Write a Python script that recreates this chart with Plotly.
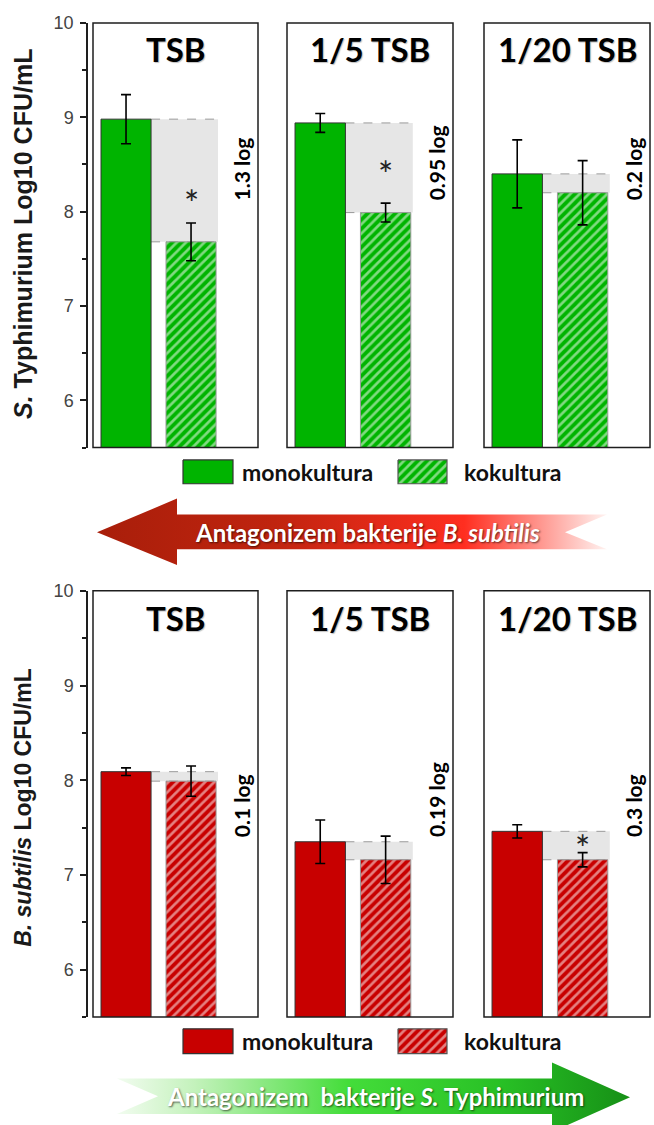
import plotly.graph_objects as go

W, H = 654, 1125

# ---------------------------------------------------------------- data
media = ["TSB", "1/5 TSB", "1/20 TSB"]
series = ["monokultura", "kokultura"]

# S. Typhimurium, log10 CFU/mL (mean and SD)
st_mono = [8.98, 8.94, 8.40]
st_mono_sd = [0.26, 0.10, 0.36]
st_co = [7.68, 7.99, 8.20]
st_co_sd = [0.20, 0.10, 0.34]
st_star = [8.18, 8.48, None]      # height of significance marker

# B. subtilis, log10 CFU/mL (mean and SD)
bs_mono = [8.09, 7.35, 7.46]
bs_mono_sd = [0.04, 0.23, 0.07]
bs_co = [7.99, 7.16, 7.16]
bs_co_sd = [0.16, 0.25, 0.075]
bs_star = [None, None, 7.37]

y_range = [5.5, 10]
y_ticks = [6, 7, 8, 9, 10]

# ---------------------------------------------------------------- styling
GREEN = "#00b400"
RED = "#c80000"
FRAME = "#1e1e1e"
TITLE_FONT = "Lato"
AXIS_FONT = "Liberation Sans"

charts = [
    dict(mono=st_mono, mono_sd=st_mono_sd, co=st_co, co_sd=st_co_sd, star=st_star,
         color=GREEN, top=13, bottom=441.5, title_y=39, label_y=8.10,
         ytitle="<b><i>S.</i> Typhimurium Log10 CFU/mL</b>", ytitle_y=226,
         ytitle_size=25, legend_y=(454, 478)),
    dict(mono=bs_mono, mono_sd=bs_mono_sd, co=bs_co, co_sd=bs_co_sd, star=bs_star,
         color=RED, top=586, bottom=1016, title_y=613, label_y=7.38,
         ytitle="<b><i>B. subtilis</i> Log10 CFU/mL</b>", ytitle_y=805,
         ytitle_size=23, legend_y=(1028, 1053)),
]

panel_x = [(93, 258), (287, 453), (484, 650)]
BAR_W = 0.77
X_RANGE = [-0.508, 2.03]
LABEL_X = 1.78
HATCH = dict(shape="/", fgcolor="white", size=6.5, solidity=0.42)


def px(v):
    return v / W


def py(v):
    return 1 - v / H


def ax_id(i):
    return "" if i == 1 else str(i)


fig = go.Figure()
layout = dict(
    width=W, height=H,
    margin=dict(l=0, r=0, t=0, b=0),
    paper_bgcolor="white", plot_bgcolor="rgba(0,0,0,0)",
    barmode="overlay", showlegend=False,
)
shapes, annotations = [], []

for c, ch in enumerate(charts):
    col = ch["color"]
    for j, name in enumerate(media):
        idx = c * 3 + j + 1
        k = ax_id(idx)
        xa, ya = f"x{k}", f"y{k}"
        x0, x1 = panel_x[j]
        layout[f"xaxis{k}"] = dict(domain=[px(x0), px(x1)], range=X_RANGE,
                                   visible=False, anchor=ya, fixedrange=True)
        yax = dict(domain=[py(ch["bottom"]), py(ch["top"])], range=y_range,
                   anchor=xa, fixedrange=True, showgrid=False, zeroline=False)
        if j == 0:
            yax.update(anchor="free", position=px(87), showline=True,
                       linecolor=FRAME, linewidth=1.5, ticks="outside",
                       ticklen=6, tickwidth=1.5, tickcolor=FRAME,
                       tickvals=y_ticks, ticklabelstandoff=3,
                       tickfont=dict(family=AXIS_FONT, size=18, color="#444"),
                       minor=dict(dtick=0.5, tick0=5.5, ticks="outside",
                                  ticklen=4, tickwidth=1.5, tickcolor=FRAME))
        else:
            yax.update(visible=False)
        layout[f"yaxis{k}"] = yax

        m, s = ch["mono"][j], ch["co"][j]
        diff = round(m - s, 2)

        # shaded difference band with dashed edges
        bx0, bx1 = BAR_W / 2, 1 + BAR_W / 2 + 0.03
        shapes.append(dict(type="rect", xref=xa, yref=ya, x0=bx0, x1=bx1,
                           y0=s, y1=m, fillcolor="#e6e6e6", line_width=0,
                           layer="below"))
        for yv in (m, s):
            shapes.append(dict(type="line", xref=xa, yref=ya, x0=bx0, x1=bx1,
                               y0=yv, y1=yv, layer="below",
                               line=dict(color="#9a9a9a", width=1, dash="dash")))

        fig.add_trace(go.Bar(
            x=[0], y=[m], width=BAR_W, name=series[0], xaxis=xa, yaxis=ya,
            marker=dict(color=col, line=dict(color="#333", width=1)),
            error_y=dict(type="data", array=[ch["mono_sd"][j]], color="black",
                         thickness=1.6, width=5)))
        fig.add_trace(go.Bar(
            x=[1], y=[s], width=BAR_W, name=series[1], xaxis=xa, yaxis=ya,
            marker=dict(color=col, line=dict(color="#999", width=1),
                        pattern=dict(bgcolor=col, **HATCH)),
            error_y=dict(type="data", array=[ch["co_sd"][j]], color="black",
                         thickness=1.6, width=5)))

        # panel frame
        shapes.append(dict(type="rect", xref=f"{xa} domain", yref=f"{ya} domain",
                           x0=0, x1=1, y0=0, y1=1, layer="above",
                           line=dict(color=FRAME, width=1.5)))
        # panel title
        annotations.append(dict(text=f"<b>{name}</b>", xref=f"{xa} domain", x=0.5,
                                yref="paper", y=py(ch["title_y"]), showarrow=False,
                                xanchor="center", yanchor="middle",
                                font=dict(family=TITLE_FONT, size=33, color="black",
                                          shadow="1px 1px 1px rgba(0,0,0,0.25)")))
        # difference label
        annotations.append(dict(text=f"<b>{diff:g} log</b>", xref=xa, x=LABEL_X,
                                yref=ya, y=ch["label_y"], showarrow=False,
                                textangle=-90, xanchor="center", yanchor="bottom",
                                font=dict(family=TITLE_FONT, size=21, color="black")))
        # significance marker
        if ch["star"][j] is not None:
            annotations.append(dict(text="*", xref=xa, x=1, yref=ya, y=ch["star"][j],
                                    showarrow=False, yshift=-8,
                                    font=dict(family=TITLE_FONT, size=36, color="#222")))

    # y-axis title
    annotations.append(dict(text=ch["ytitle"], xref="paper", x=px(23), yref="paper",
                            y=py(ch["ytitle_y"]), showarrow=False, textangle=-90,
                            xanchor="center", yanchor="middle",
                            font=dict(family=AXIS_FONT, size=ch["ytitle_size"],
                                      color="#1a1a1a")))

# ---------------------------------------------------------------- pixel overlay
layout["xaxis7"] = dict(domain=[0, 1], range=[0, W], visible=False, anchor="y7",
                        fixedrange=True)
layout["yaxis7"] = dict(domain=[0, 1], range=[H, 0], visible=False, anchor="x7",
                        fixedrange=True)


def rect_trace(x0, x1, y0, y1, **kw):
    return go.Scatter(x=[x0, x1, x1, x0, x0], y=[y0, y0, y1, y1, y0], mode="lines",
                      fill="toself", xaxis="x7", yaxis="y7", hoverinfo="skip", **kw)


# legends
for ch in charts:
    col = ch["color"]
    ly0, ly1 = ch["legend_y"]
    fig.add_trace(rect_trace(183, 233, ly0, ly1, fillcolor=col,
                             line=dict(color="#333", width=1.2)))
    fig.add_trace(rect_trace(398, 447, ly0, ly1, fillcolor=col,
                             line=dict(color="#555", width=1.2),
                             fillpattern=dict(bgcolor=col, **HATCH)))
    for tx, label in ((240, series[0]), (462, series[1])):
        annotations.append(dict(text=f"<b>{label}</b>", xref="paper", x=px(tx),
                                yref="paper", y=py((ly0 + ly1) / 2), showarrow=False,
                                xanchor="left", yanchor="middle",
                                font=dict(family=TITLE_FONT, size=23, color="#111")))

# arrows
left_arrow = [(97, 527), (177, 493), (177, 509), (607, 509), (565, 527),
              (607, 544), (177, 544), (177, 560), (97, 527)]
fig.add_trace(go.Scatter(
    x=[p[0] for p in left_arrow], y=[p[1] for p in left_arrow], mode="lines",
    fill="toself", line=dict(width=0), xaxis="x7", yaxis="y7", hoverinfo="skip",
    fillgradient=dict(type="horizontal",
                      colorscale=[[0, "#a81e0a"], [0.35, "#c0240f"],
                                  [0.72, "#ff2e20"], [1, "#fff2f0"]])))
right_arrow = [(117, 1078), (552, 1078), (552, 1062), (630, 1097), (552, 1132),
               (552, 1114), (117, 1114), (158, 1096), (117, 1078)]
fig.add_trace(go.Scatter(
    x=[p[0] for p in right_arrow], y=[p[1] for p in right_arrow], mode="lines",
    fill="toself", line=dict(width=0), xaxis="x7", yaxis="y7", hoverinfo="skip",
    fillgradient=dict(type="horizontal",
                      colorscale=[[0, "#f2fcf0"], [0.15, "#c4f2bc"], [0.45, "#44dd3a"],
                                  [0.75, "#28c025"], [1, "#169016"]])))

annotations.append(dict(text="<b>Antagonizem bakterije <i>B. subtilis</i></b>",
                        xref="paper", x=px(367), yref="paper", y=py(527),
                        showarrow=False, xanchor="center", yanchor="middle",
                        font=dict(family=TITLE_FONT, size=24, color="white",
                                  shadow="1px 1px 2px rgba(0,0,0,0.6)")))
annotations.append(dict(text="<b>Antagonizem&nbsp; bakterije <i>S.</i> Typhimurium</b>",
                        xref="paper", x=px(375), yref="paper", y=py(1096),
                        showarrow=False, xanchor="center", yanchor="middle",
                        font=dict(family=TITLE_FONT, size=24, color="white",
                                  shadow="1px 1px 2px rgba(0,0,0,0.6)")))

layout["shapes"] = shapes
layout["annotations"] = annotations
fig.update_layout(**layout)
fig.write_html("out.html")
